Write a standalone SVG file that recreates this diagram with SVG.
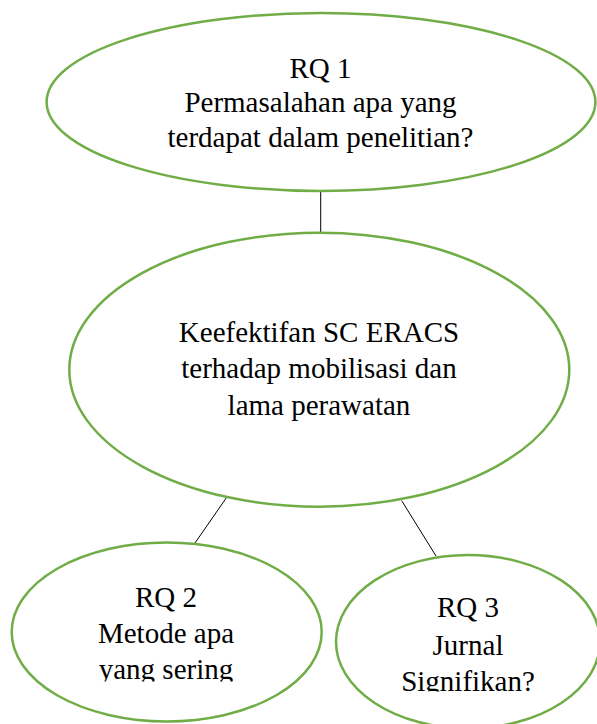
<svg xmlns="http://www.w3.org/2000/svg" width="597" height="724" viewBox="0 0 597 724">
<style>
.node{fill:#FFFFFF;stroke:#70AD47;stroke-width:2.5}
.lbl{font-family:"Liberation Serif","Times New Roman",serif;font-size:29px;fill:#000000;text-anchor:middle}
.conn{stroke:#000000;stroke-width:1;fill:none}
</style>
<defs>
<clipPath id="clipRQ2"><rect x="0" y="540" width="330" height="141.5"/></clipPath>
<clipPath id="clipRQ3"><rect x="330" y="550" width="267" height="141.5"/></clipPath>
</defs>
<rect width="597" height="724" fill="#FFFFFF"/>
<g id="connectors">
<line class="conn" x1="320.7" y1="191" x2="320.7" y2="232" stroke-width="1.3" stroke="#333333"/>
<line class="conn" x1="228.3" y1="495" x2="195" y2="543"/>
<line class="conn" x1="401.7" y1="500.7" x2="436" y2="556"/>
</g>
<g id="rq1">
<ellipse class="node" cx="321" cy="102" rx="274.4" ry="89"/>
<text class="lbl" x="320.5" y="78.3">RQ 1</text>
<text class="lbl" x="320.5" y="112">Permasalahan apa yang</text>
<text class="lbl" x="320.5" y="146.7">terdapat dalam penelitian?</text>
</g>
<g id="main">
<ellipse class="node" cx="319.3" cy="369.7" rx="250" ry="137"/>
<text class="lbl" x="319" y="341.7">Keefektifan SC ERACS</text>
<text class="lbl" x="319" y="378">terhadap mobilisasi dan</text>
<text class="lbl" x="319" y="415">lama perawatan</text>
</g>
<g id="rq2">
<ellipse class="node" cx="166.7" cy="632" rx="155" ry="89.5"/>
<g clip-path="url(#clipRQ2)">
<text class="lbl" x="166" y="607.3">RQ 2</text>
<text class="lbl" x="166" y="643.3">Metode apa</text>
<text class="lbl" x="166" y="679">yang sering</text>
</g>
</g>
<g id="rq3">
<ellipse class="node" cx="468" cy="641.7" rx="132" ry="86.7"/>
<g clip-path="url(#clipRQ3)">
<text class="lbl" x="468" y="617.3">RQ 3</text>
<text class="lbl" x="468" y="655">Jurnal</text>
<text class="lbl" x="468" y="690.7">Signifikan?</text>
</g>
</g>
</svg>
